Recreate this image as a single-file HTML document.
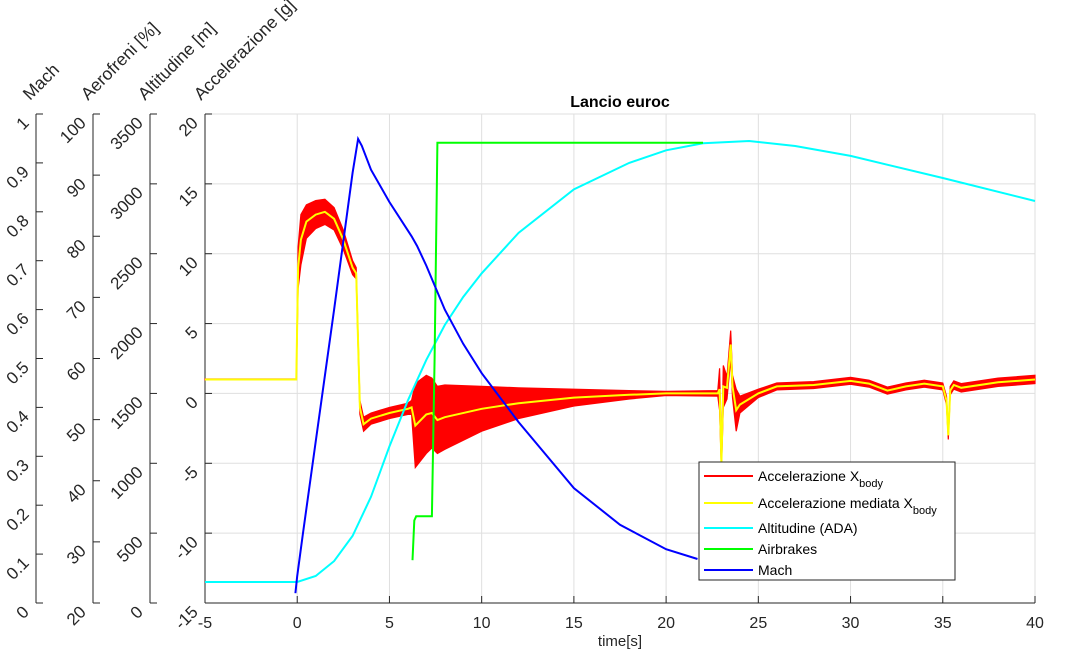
<!DOCTYPE html>
<html><head><meta charset="utf-8"><style>
body{margin:0;background:#fff;}
svg{font-family:"Liberation Sans",Arial,sans-serif;}
</style></head><body>
<svg id="chart" width="1070" height="659" xmlns="http://www.w3.org/2000/svg"></svg>
<script>
// ---- data ----
const xTicks=[-5,0,5,10,15,20,25,30,35,40];
const accTicks=[20,15,10,5,0,-5,-10,-15];
const machTicks=[0,0.1,0.2,0.3,0.4,0.5,0.6,0.7,0.8,0.9,1];
const brakeTicks=[20,30,40,50,60,70,80,90,100];
const altTicks=[0,500,1000,1500,2000,2500,3000,3500];
// mean acceleration (g)
const accT=[-5,-0.05,0.05,0.2,0.5,1,1.5,2,2.5,3,3.2,3.4,3.6,4,5,6,6.2,6.4,7,7.3,7.6,8,10,12,15,18,20,22.8,22.9,23.0,23.1,23.3,23.5,23.6,23.8,24,25,26,28,30,31,32,33,34,35,35.2,35.3,35.4,35.6,36,38,40];
const accMean=[1,1,9,11,12.3,12.8,13,12.5,11,9,8.6,-1,-2.2,-1.8,-1.4,-1.1,-1,-2.3,-1.5,-1.4,-1.9,-1.7,-1.1,-0.7,-0.3,-0.1,0,0,0.3,-5,0.5,0.4,3.5,0.5,-1.2,-0.8,0,0.5,0.6,0.9,0.7,0.2,0.5,0.7,0.5,-0.5,-3,0.2,0.6,0.4,0.8,1];
// noise half-amplitude for raw acceleration
const accNoise=[0.03,0.03,1.5,1.8,1.2,1,0.9,0.8,0.7,0.5,0.4,0.5,0.5,0.4,0.4,0.4,0.5,3,2.8,2.5,2.4,2.3,1.6,1.1,0.6,0.3,0.15,0.2,1.5,0.5,1.5,0.8,1,0.8,1.5,0.6,0.3,0.25,0.25,0.25,0.25,0.25,0.25,0.25,0.25,0.3,0.3,0.3,0.3,0.3,0.3,0.3];
// altitude (m)
const altT=[-5,0,1,2,3,4,5,6,7,8,9,10,12,15,18,20,22,24.5,27,30,35,40];
const altV=[150,150,193,300,480,760,1120,1450,1740,1990,2190,2360,2650,2960,3150,3240,3290,3307,3271,3200,3042,2877];
// airbrakes (%)
const brkT=[6.25,6.35,6.45,7.3,7.45,7.6,22];
const brkV=[27,33.5,34.2,34.2,60,95.3,95.3];
// Mach
const machT=[-0.1,0,0.3,1,2,3,3.3,3.5,4,5,6.2,6.5,7,8,9,10,12,15,17.5,20,21.7];
const machV=[0.02,0.055,0.14,0.33,0.6,0.88,0.949,0.935,0.886,0.82,0.75,0.73,0.69,0.6,0.53,0.47,0.37,0.235,0.16,0.11,0.09];

// ---- geometry ----
const L=205,R=1035,T=114,B=603;
const X=t=>L+(t+5)/45*(R-L);
const Ya=v=>T+(20-v)/35*(B-T);
const Ym=v=>B-v*(B-T);
const Yb=v=>B-(v-20)/80*(B-T);
const Yh=v=>B-v/3500*(B-T);
const svg=document.getElementById('chart');
const NS='http://www.w3.org/2000/svg';
function mk(tag,attrs,parent){const e=document.createElementNS(NS,tag);for(const k in attrs)e.setAttribute(k,attrs[k]);(parent||svg).appendChild(e);return e;}

// grid
const grid=mk('g',{});


xTicks.forEach(t=>{mk('line',{x1:X(t),x2:X(t),y1:T,y2:B,stroke:'#dfdfdf','stroke-width':1},grid);});
accTicks.forEach(v=>{mk('line',{x1:L,x2:R,y1:Ya(v),y2:Ya(v),stroke:'#dfdfdf','stroke-width':1},grid);});

// y axes
function yaxis(name,x,ticks,Y,fmt){
  const g=mk('g',{});
  
  
  mk('line',{x1:x,x2:x,y1:T,y2:B,stroke:'#262626','stroke-width':1},g);
  ticks.forEach(v=>{
    const y=Y(v);
    mk('line',{x1:x,x2:x+7,y1:y,y2:y,stroke:'#262626','stroke-width':1},g);
    const tx=mk('text',{x:x-6,y:y+10,'font-size':17,fill:'#262626','text-anchor':'end',transform:`rotate(-45 ${x-6} ${y+10})`},g);
    tx.textContent=fmt(v);
  });
}
yaxis('mach-axis',36,machTicks,Ym,v=>String(v));
yaxis('airbrakes-axis',93,brakeTicks,Yb,v=>String(v));
yaxis('altitude-axis',150,altTicks,Yh,v=>String(v));
yaxis('acceleration-axis',L,accTicks,Ya,v=>String(v));

// x axis
const xg=mk('g',{});


mk('line',{x1:L,x2:R,y1:B,y2:B,stroke:'#262626','stroke-width':1},xg);
xTicks.forEach(t=>{
  mk('line',{x1:X(t),x2:X(t),y1:B,y2:B-7,stroke:'#262626'},xg);
  const tx=mk('text',{x:X(t),y:B+25,'font-size':16,fill:'#262626','text-anchor':'middle'},xg);
  tx.textContent=String(t);
});

// axis titles
[['mach-axis-title','Mach',30],['airbrakes-axis-title','Aerofreni [%]',88],['altitude-axis-title','Altitudine [m]',145],['acceleration-axis-title','Accelerazione [g]',201]].forEach(a=>{
  const tx=mk('text',{x:a[2],y:101,'font-size':17.5,fill:'#262626',transform:`rotate(-45 ${a[2]} 101)`});
  
  
  tx.textContent=a[1];
});
const title=mk('text',{x:620,y:107,'font-size':16,'font-weight':'bold','text-anchor':'middle',fill:'#000'});


title.textContent='Lancio euroc';
const xl=mk('text',{x:620,y:646,'font-size':15,'text-anchor':'middle',fill:'#262626'});


xl.textContent='time[s]';

// series
const series=mk('g',{});


const pts=(ts,vs,Y)=>ts.map((t,i)=>X(t).toFixed(1)+','+Y(vs[i]).toFixed(1)).join(' ');
// raw acceleration band
const up=accT.map((t,i)=>X(t).toFixed(1)+','+Ya(accMean[i]+accNoise[i]).toFixed(1));
const dn=accT.map((t,i)=>X(t).toFixed(1)+','+Ya(accMean[i]-accNoise[i]).toFixed(1)).reverse();
const raw=mk('polygon',{points:up.concat(dn).join(' '),fill:'#ff0000',stroke:'#ff0000','stroke-width':1.2},series);


const mean=mk('polyline',{points:pts(accT,accMean,Ya),fill:'none',stroke:'#ffff00','stroke-width':2},series);


const alt=mk('polyline',{points:pts(altT,altV,Yh),fill:'none',stroke:'#00ffff','stroke-width':2},series);


const brk=mk('polyline',{points:pts(brkT,brkV,Yb),fill:'none',stroke:'#00ff00','stroke-width':2},series);


const mach=mk('polyline',{points:pts(machT,machV,Ym),fill:'none',stroke:'#0000ff','stroke-width':2},series);



// legend
const lg=mk('g',{});


mk('rect',{x:699,y:462,width:256,height:118,fill:'#fff',stroke:'#262626','stroke-width':1},lg);
const lent=[['#ff0000','Accelerazione X','body',476],['#ffff00','Accelerazione mediata X','body',503],['#00ffff','Altitudine (ADA)','',528],['#00ff00','Airbrakes','',549],['#0000ff','Mach','',570]];
lent.forEach(e=>{
  const g=mk('g',{},lg);
  
  
  mk('line',{x1:704,x2:753,y1:e[3],y2:e[3],stroke:e[0],'stroke-width':2},g);
  const tx=mk('text',{x:758,y:e[3]+5,'font-size':14,fill:'#000'},g);
  tx.textContent=e[1];
  if(e[2]){const s=mk('tspan',{'font-size':11,dy:6},tx);s.textContent=e[2];}
});
</script>
</body></html>
